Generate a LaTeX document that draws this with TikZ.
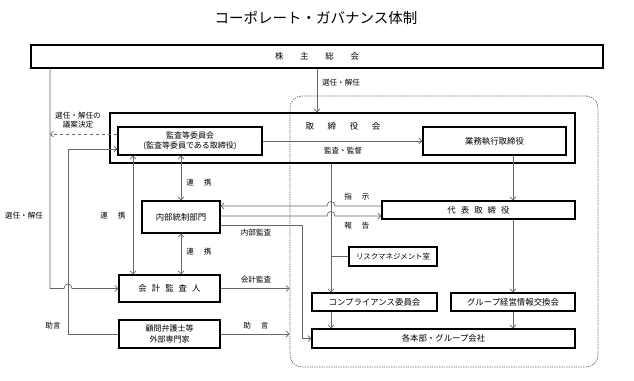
\documentclass[tikz,border=0pt]{standalone}
\usepackage{fontspec}
\setmainfont{Noto Sans CJK JP}
\usetikzlibrary{arrows.meta}
\begin{document}
\begin{tikzpicture}[x=1pt,y=-1pt,
  box/.style={draw=black, line width=1.2pt, inner sep=0pt, align=center, font=\fontsize{8.4}{10}\selectfont},
  lbl/.style={inner sep=0pt, align=center, font=\fontsize{7.6}{9.5}\selectfont},
  conn/.style={draw=black!60, line width=0.7pt},
  arr/.style={conn, -{Straight Barb[length=3pt,width=6pt]}},
  darr/.style={conn, {Straight Barb[length=3pt,width=6pt]}-{Straight Barb[length=3pt,width=6pt]}},
  frame/.style={draw=black!60, line width=0.7pt, dash pattern=on 1.3pt off 1.1pt, rounded corners=12pt, inner sep=0pt}]
\useasboundingbox (0,0) rectangle (634,380);
\fill[white] (0,0) rectangle (634,380);

% title
\node[inner sep=0pt, font=\fontsize{14.5}{16}\selectfont] (title) at (316,18) {コーポレート・ガバナンス体制};

% frame and boxes
\node[frame, minimum width=308pt, minimum height=271pt] (frame) at (444,231.5) {};
\node[box, minimum width=572pt, minimum height=23pt] (kabu) at (317,56.5) {株\hspace{2em}主\hspace{2em}総\hspace{2em}会};
\node[box, minimum width=465pt, minimum height=50pt] (tb) at (342.5,138) {};
\node[box, minimum width=144pt, minimum height=28pt, font=\fontsize{8}{10}\selectfont] (kansa) at (190,141) {監査等委員会\\(監査等委員である取締役)};
\node[box, minimum width=143pt, minimum height=28pt] (gyomu) at (494.5,141) {業務執行取締役};
\node[box, minimum width=78pt, minimum height=32pt] (naibu) at (181,217) {内部統制部門};
\node[box, minimum width=193pt, minimum height=18pt] (daihyo) at (478.5,210) {代\hspace{0.6em}表\hspace{0.6em}取\hspace{0.6em}締\hspace{0.6em}役};
\node[box, minimum width=101pt, minimum height=27pt] (kaikei) at (169.5,288.5) {会\hspace{0.6em}計\hspace{0.6em}監\hspace{0.6em}査\hspace{0.6em}人};
\node[box, minimum width=101pt, minimum height=28pt, font=\fontsize{8}{11}\selectfont] (komon) at (169.5,334) {顧問弁護士等\\外部専門家};
\node[box, minimum width=88pt, minimum height=19pt, font=\fontsize{7.4}{9}\selectfont] (risk) at (393,256.5) {リスクマネジメント室};
\node[box, minimum width=125pt, minimum height=18pt] (comp) at (374.5,302) {コンプライアンス委員会};
\node[box, minimum width=124pt, minimum height=18pt] (group) at (513,302) {グループ経営情報交換会};
\node[box, minimum width=263pt, minimum height=19pt] (kaku) at (443.5,338.5) {各本部・グループ会社};

% helper x positions
\coordinate (L) at (50,0);
\coordinate (A) at (68,0);
\coordinate (B) at (133,0);
\coordinate (V) at (331,0);
\coordinate (I) at (302,0);

% labels
\node[lbl, font=\fontsize{8.5}{10}\selectfont] (tblbl) at (343,126) {取\hspace{1.6em}締\hspace{1.6em}役\hspace{1.6em}会};
\node[lbl] (l1) at (341,83) {選任・解任};
\node[lbl] (l2) at (78,120) {選任・解任の\\議案決定};
\node[lbl] (l3) at (24,216) {選任・解任};
\node[lbl] (l4) at (113,216) {連\hspace{1.3em}携};
\node[lbl] (l5) at (199,183) {連\hspace{1.3em}携};
\node[lbl] (l6) at (199,252) {連\hspace{1.3em}携};
\node[lbl] (l7) at (343,151) {監査・監督};
\node[lbl] (l8) at (357,197) {指\hspace{1.3em}示};
\node[lbl] (l9) at (357,226) {報\hspace{1.3em}告};
\node[lbl] (l10) at (256,233) {内部監査};
\node[lbl] (l11) at (256,280) {会計監査};
\node[lbl] (l12) at (256,326) {助\hspace{1.3em}言};
\node[lbl] (l13) at (53,326) {助言};

% connectors
\draw[arr] (kabu.south) -- (kabu.south |- tb.north);
\draw[arr] (kabu.south -| L) -- (L |- kaikei.west) -- (64,288.5) .. controls (64,282.5) and (72,282.5) .. (72,288.5) -- (kaikei.west);
\draw[arr, dashed] ([yshift=7pt]kansa.west) -- ([yshift=7pt]kansa.west -| L);
\draw[arr] (komon.west) -- (komon.west -| A) -- ([yshift=-8pt]kansa.west -| A) -- ([yshift=-8pt]kansa.west);
\draw[darr] (kansa.south -| B) -- (kaikei.north -| B);
\draw[darr] (naibu.north |- kansa.south) -- (naibu.north);
\draw[darr] (naibu.south) -- (naibu.south |- kaikei.north);
\draw[arr] (kansa.east) -- (gyomu.west);
\draw[arr] (gyomu.south -| group.north) -- (daihyo.north -| group.north);
\draw[arr] (daihyo.south -| group.north) -- (group.north);
\draw[arr] (group.south) -- (kaku.north -| group.south);
\draw[arr] (tb.south -| V) -- (comp.north -| V);
\draw[conn] (risk.west) -- (risk.west -| V);
\draw[arr] (comp.south -| V) -- (kaku.north -| V);
\draw[arr] ([yshift=4pt]daihyo.west) -- (335,206) .. controls (335,200) and (327,200) .. (327,206) -- ([yshift=11pt]naibu.east);
\draw[arr] ([yshift=1pt]naibu.east) -- (327,216) .. controls (327,210) and (335,210) .. (335,216) -- ([yshift=1pt]naibu.east -| daihyo.west);
\draw[arr] ([yshift=-8pt]naibu.east) -- ([yshift=-8pt]naibu.east -| I) -- (I |- kaku.west) -- (kaku.west);
\draw[arr] (kaikei.east) -- (kaikei.east -| frame.west);
\draw[arr] (komon.east) -- (komon.east -| frame.west);
\end{tikzpicture}
\end{document}
